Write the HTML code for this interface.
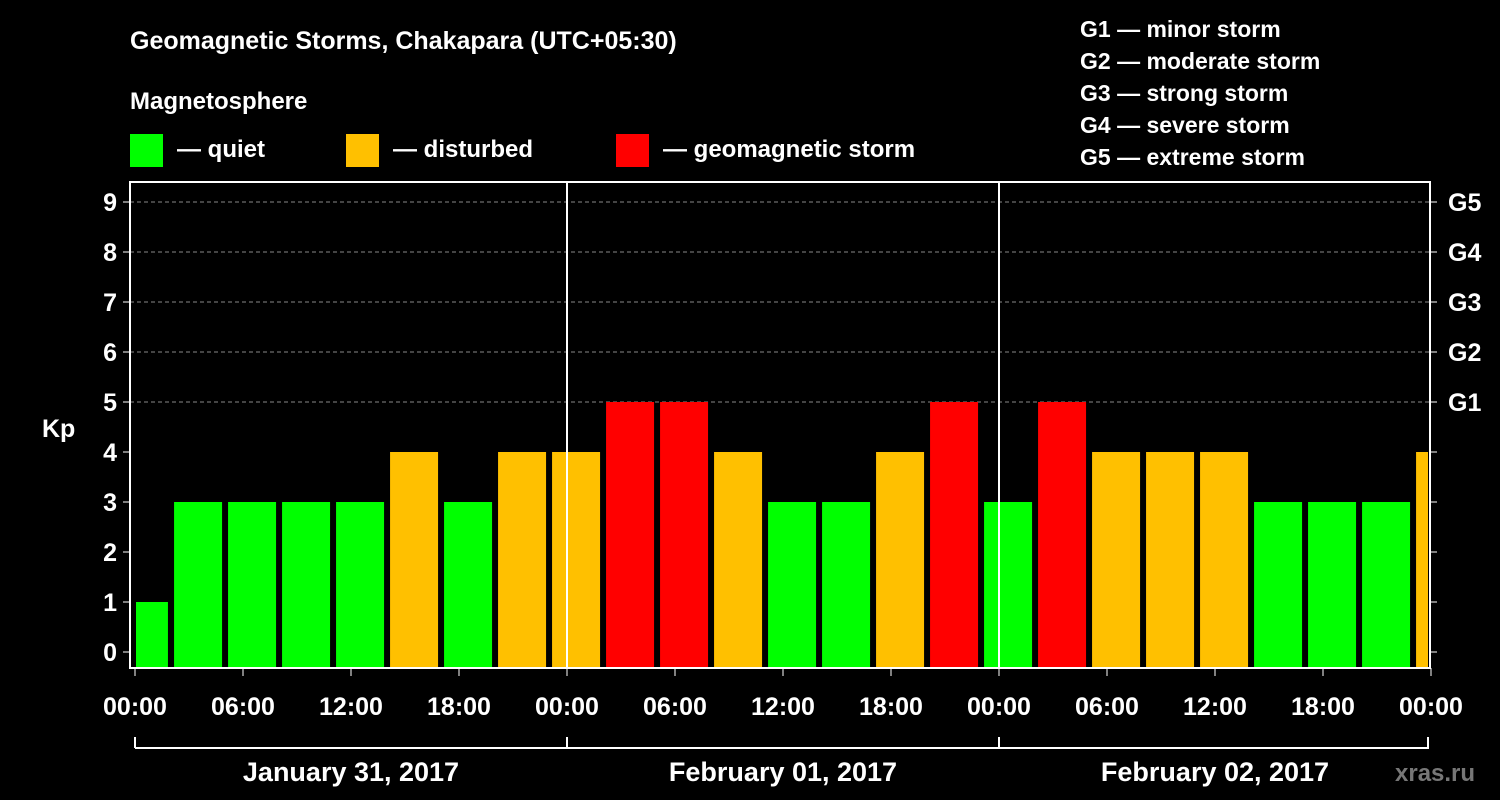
<!DOCTYPE html>
<html><head><meta charset="utf-8"><style>
body{margin:0;background:#000;}
svg{display:block;font-family:"Liberation Sans",sans-serif;font-weight:bold;}
</style></head><body>
<svg id="chart" width="1500" height="800">
<rect width="1500" height="800" fill="#000"/>
<text x="130" y="49" fill="#fff" font-size="25">Geomagnetic Storms, Chakapara (UTC+05:30)</text>
<text x="130" y="109" fill="#fff" font-size="24">Magnetosphere</text>
<g><rect x="130" y="134" width="33" height="33" fill="#00ff00"/><text x="177" y="157" fill="#fff" font-size="24">— quiet</text></g>
<g><rect x="346" y="134" width="33" height="33" fill="#ffc000"/><text x="393" y="157" fill="#fff" font-size="24">— disturbed</text></g>
<g><rect x="616" y="134" width="33" height="33" fill="#ff0000"/><text x="663" y="157" fill="#fff" font-size="24">— geomagnetic storm</text></g>
<g fill="#fff" font-size="23">
<text x="1080" y="37">G1 — minor storm</text>
<text x="1080" y="69">G2 — moderate storm</text>
<text x="1080" y="101">G3 — strong storm</text>
<text x="1080" y="133">G4 — severe storm</text>
<text x="1080" y="165">G5 — extreme storm</text>
</g>
<text x="42" y="437" fill="#fff" font-size="25">Kp</text>
<text x="1395" y="781" fill="#777" font-size="24">xras.ru</text>
<g id="grid"></g><g id="bars"></g><g id="axes"></g>
</svg>
<script>
const kpValues=[1,3,3,3,3,4,3,4,4,5,5,4,3,3,4,5,3,5,4,4,4,3,3,3,4];
const yTicks=[0,1,2,3,4,5,6,7,8,9];
const gLabels=["G1","G2","G3","G4","G5"];
const timeLabels=["00:00","06:00","12:00","18:00","00:00","06:00","12:00","18:00","00:00","06:00","12:00","18:00","00:00"];
const dateLabels=["January 31, 2017","February 01, 2017","February 02, 2017"];
const NS="http://www.w3.org/2000/svg";
const X0=135,HOUR=18,PL=130,PR=1430,PT=182,PB=668;
const y=v=>652-v*50;
const xh=h=>X0+h*HOUR;
function mk(t,a,p){const e=document.createElementNS(NS,t);for(const k in a)e.setAttribute(k,a[k]);p.appendChild(e);return e;}
const grid=document.getElementById('grid'),bars=document.getElementById('bars'),axes=document.getElementById('axes');
// bars: first covers 0..2.5h local, subsequent 3h each starting 2.5h
kpValues.forEach((v,i)=>{
  let s,e;
  if(i===0){s=xh(0)+1;e=xh(1.83);}
  else{s=xh(2.17+3*(i-1));e=Math.min(s+48,1428);}
  const c=v>=5?"#ff0000":v>=4?"#ffc000":"#00ff00";
  const r=mk('rect',{x:s,y:y(v),width:e-s,height:y(0)+16-y(v),fill:c},bars);
  
  
});
yTicks.forEach(v=>{
  if(v>=5){const l=mk('line',{x1:PL,x2:PR,y1:y(v),y2:y(v),stroke:"#888","stroke-dasharray":"4,3","stroke-width":1},grid);
    }
  mk('line',{x1:PL-7,x2:PL,y1:y(v),y2:y(v),stroke:"#fff"},axes);
  mk('line',{x1:PR,x2:PR+7,y1:y(v),y2:y(v),stroke:"#fff"},axes);
  const t=mk('text',{x:PL-13,y:y(v)+9,fill:"#fff","font-size":25,"text-anchor":"end"},axes);t.textContent=v;
  
});
gLabels.forEach((g,i)=>{const t=mk('text',{x:1448,y:y(5+i)+9,fill:"#fff","font-size":25},axes);t.textContent=g;
  });
mk('rect',{x:PL,y:PT,width:PR-PL,height:PB-PT,fill:"none",stroke:"#fff","stroke-width":2},axes);
[24,48].forEach(h=>mk('line',{x1:xh(h),x2:xh(h),y1:PT,y2:PB,stroke:"#fff","stroke-width":2},axes));
timeLabels.forEach((l,i)=>{const x=xh(i*6);
  mk('line',{x1:x,x2:x,y1:PB,y2:PB+8,stroke:"#fff"},axes);
  const t=mk('text',{x:x,y:715,fill:"#fff","font-size":25,"text-anchor":"middle"},axes);t.textContent=l;
  });
mk('line',{x1:xh(0),x2:xh(72)-2,y1:748,y2:748,stroke:"#fff","stroke-width":2},axes);
[0,24,48,72].forEach(h=>mk('line',{x1:Math.min(xh(h),1428),x2:Math.min(xh(h),1428),y1:737,y2:748,stroke:"#fff","stroke-width":2},axes));
dateLabels.forEach((d,i)=>{const t=mk('text',{x:xh(i*24+12),y:781,fill:"#fff","font-size":27,"text-anchor":"middle"},axes);t.textContent=d;
  });
</script>
</body></html>
